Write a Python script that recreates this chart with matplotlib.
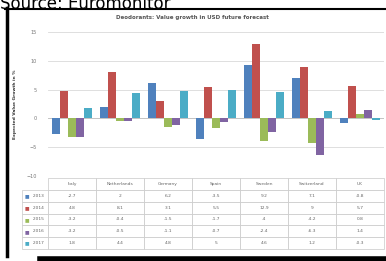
"""
Deodorants value growth chart, excel style with data table underneath
"""

import matplotlib
matplotlib.use("Agg")
import matplotlib.pyplot as plt
import numpy as np

countries = ["Italy", "Netherlands", "Germany", "Spain", "Sweden", "Switzerland", "UK"]
years = ["2013", "2014", "2015", "2016", "2017"]

growth_2013 = [-2.7, 2.0, 6.2, -3.5, 9.2, 7.1, -0.8]
growth_2014 = [4.8, 8.1, 3.1, 5.5, 12.9, 9.0, 5.7]
growth_2015 = [-3.2, -0.4, -1.5, -1.7, -4.0, -4.2, 0.8]
growth_2016 = [-3.2, -0.5, -1.1, -0.7, -2.4, -6.3, 1.4]
growth_2017 = [1.8, 4.4, 4.8, 5.0, 4.6, 1.2, -0.3]

series = [growth_2013, growth_2014, growth_2015, growth_2016, growth_2017]
colors = ["#4F81BD", "#C0504D", "#9BBB59", "#8064A2", "#4BACC6"]

W, H = 386, 261
fig = plt.figure(figsize=(W / 100, H / 100), dpi=100)
fig.patch.set_facecolor("white")

# pixel helper -> figure fraction
def px(x, y):
    return x / W, 1 - y / H

# plot area
left, right, top, bottom = 48, 384, 32, 176
ax = fig.add_axes([left / W, 1 - bottom / H, (right - left) / W, (bottom - top) / H])

x = np.arange(len(countries))
bw = 0.165
for i, (vals, c) in enumerate(zip(series, colors)):
    ax.bar(x + (i - 2) * bw, vals, width=bw, color=c, edgecolor="none", zorder=3)

ax.set_xlim(-0.5, len(countries) - 0.5)
ax.set_ylim(-10, 15)
ax.set_yticks([-10, -5, 0, 5, 10, 15])
ax.tick_params(axis="y", labelsize=3.5, colors="#777777", length=0, pad=8)
ax.set_xticks([])
ax.yaxis.grid(True, color="#d9d9d9", linewidth=0.6, zorder=0)
ax.axhline(0, color="#bfbfbf", linewidth=0.6, zorder=2)
for s in ax.spines.values():
    s.set_visible(False)
ax.set_ylabel("Expected Value Growth in %", fontsize=3.2, fontweight="bold", color="#333333", labelpad=7)

# title
fig.text(*px(192, 17), "Deodorants: Value growth in USD future forecast",
         fontsize=4, color="#555555", ha="center", va="center", fontweight="bold")

# data table
cell_text = [[""] + countries]
for y, vals in zip(years, series):
    cell_text.append(["     " + y] + [f"{v:g}" for v in vals])

t_left, t_right, t_top, t_bot = 22, 384, 178, 249
tb = ax.table(cellText=cell_text,
              colWidths=[26] + [48] * len(countries),
              bbox=[(t_left - left) / (right - left), -(t_bot - bottom) / (bottom - top),
                    (t_right - t_left) / (right - left), (t_bot - t_top) / (bottom - top)],
              cellLoc="center")
tb.auto_set_font_size(False)
for (r, c), cell in tb.get_celld().items():
    cell.set_edgecolor("#c8c8c8")
    cell.set_linewidth(0.5)
    cell.get_text().set_fontsize(3.2)
    cell.get_text().set_color("#666666")
    if r == 0 and c == 0:
        cell.visible_edges = ""

# legend keys in row label cells
row_h = (t_bot - t_top) / 6
for i, c in enumerate(colors):
    fig.text(*px(27, t_top + row_h * (i + 1.5)), "\u25a0", fontsize=3.5, color=c,
             ha="center", va="center")

# source text (cut at top like the screenshot) and black frame
fig.text(*px(0, 9), "Source: Euromonitor", fontsize=12, color="black", ha="left", va="baseline")
fig.add_artist(plt.Line2D([5 / W, 1], [1 - 8.5 / H, 1 - 8.5 / H], color="black", linewidth=1.5))
fig.add_artist(plt.Line2D([6.5 / W, 6.5 / W], [1 - 8 / H, 1 - 256 / H], color="black", linewidth=2.5))
fig.add_artist(plt.Line2D([40 / W, 1], [1 - 258.5 / H, 1 - 258.5 / H], color="black", linewidth=4))

fig.savefig("out.png", dpi=100)
